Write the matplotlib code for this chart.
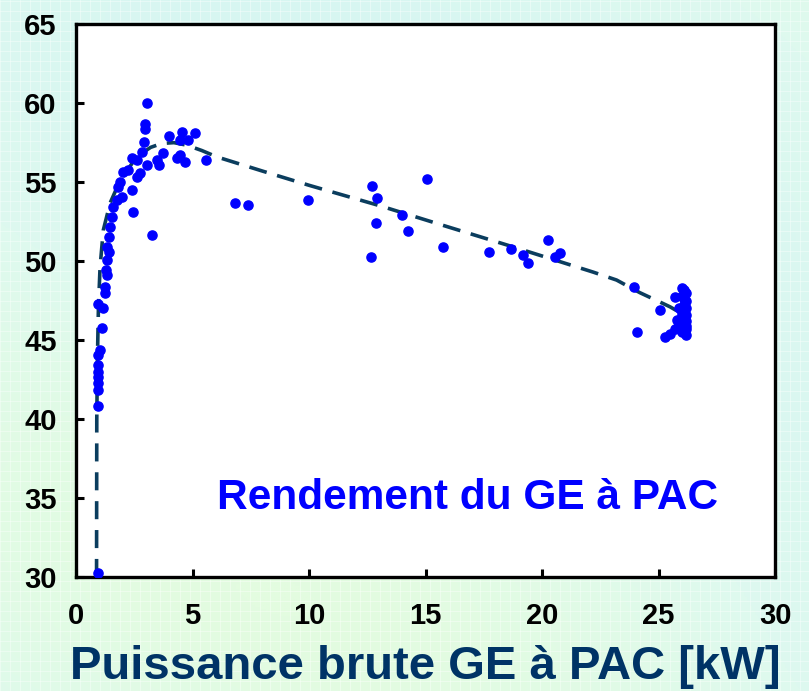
import numpy as np
import matplotlib
matplotlib.use('Agg')
import matplotlib.pyplot as plt
from matplotlib.colors import LinearSegmentedColormap

# Mesures : puissance brute (kW) et rendement (%)
puissance = [0.96, 0.96, 0.96, 0.96, 0.96, 0.96, 0.96, 0.96, 1.03, 1.1, 0.96, 1.15,
             1.24, 1.24, 1.32, 1.29, 1.32, 1.43, 1.34, 1.43, 1.46, 1.53, 1.6, 1.75,
             1.96, 1.82, 1.89, 2.39, 2.02, 2.23, 2.62, 2.75, 2.46, 3.25, 2.39, 2.6,
             2.82, 3.03, 2.92, 2.96, 2.96, 3.03, 3.49, 3.57, 3.72, 3.99, 4.55, 5.1,
             4.46, 4.8, 4.32, 4.68, 4.46, 5.59, 6.82, 7.4, 9.97, 12.72, 12.9, 12.88,
             12.66, 15.08, 13.98, 14.26, 15.77, 17.73, 18.67, 19.17, 19.38, 20.27,
             20.56, 20.77, 23.95, 24.09, 25.06, 25.28, 25.5, 25.7,
             26.0, 26.1, 26.2, 26.0, 26.2, 26.1, 26.2, 26.0, 26.2, 26.1, 26.2, 25.9,
             26.1, 26.2, 26.0, 26.2, 25.8, 25.7, 26.1, 26.0, 26.2, 25.9]
rendement = [30.25, 40.8, 41.84, 42.26, 42.68, 43.0, 43.4, 44.05, 44.37, 45.74, 47.3, 47.0,
             47.96, 48.37, 49.1, 49.43, 50.06, 50.6, 50.9, 51.54, 52.17, 52.8, 53.4, 53.86,
             54.07, 54.7, 55.0, 54.5, 55.65, 55.76, 55.3, 55.55, 53.1, 51.65, 56.5, 56.4,
             56.9, 56.1, 57.55, 58.35, 58.7, 60.0, 56.4, 56.1, 56.85, 57.9, 58.2, 58.1,
             57.66, 57.66, 56.5, 56.3, 56.7, 56.4, 53.65, 53.54, 53.86, 54.77, 53.97, 52.4,
             50.27, 55.17, 52.9, 51.92, 50.9, 50.59, 50.76, 50.38, 49.85, 51.33,
             50.27, 50.53, 48.33, 45.49, 46.9, 45.17, 45.38, 47.74,
             48.3, 48.2, 48.0, 47.8, 47.5, 47.2, 47.0, 46.8, 46.6, 46.4, 46.2, 46.0,
             45.9, 45.7, 45.5, 45.3, 46.3, 45.7, 47.6, 46.6, 45.9, 47.0]

# Courbe de tendance
tendance_x = [0.88, 0.885, 0.89, 0.92, 0.96, 1.03, 1.17, 1.46, 1.89, 2.6, 3.2, 3.68,
              4.2, 4.75, 5.4, 6.04, 8.0, 10.0, 13.05, 16.0, 18.76, 22.2, 23.2, 24.2,
              25.0, 25.5, 25.85]
tendance_y = [30.0, 35.0, 40.0, 44.0, 47.0, 49.6, 51.96, 53.67, 55.1, 56.6, 57.2, 57.45,
              57.5, 57.34, 57.0, 56.6, 55.7, 54.8, 53.5, 52.15, 50.9, 49.3, 48.8, 48.0,
              47.45, 47.1, 46.8]

x_ticks = [0, 5, 10, 15, 20, 25, 30]
y_ticks = [30, 35, 40, 45, 50, 55, 60, 65]

plt.rcParams['font.family'] = ['Liberation Sans', 'DejaVu Sans']

fig = plt.figure(figsize=(8.09, 6.91), dpi=100)

# fond degrade vert d'eau
bg = fig.add_axes([0, 0, 1, 1], zorder=-10)
yy, xx = np.mgrid[0:1:300j, 0:1:300j]
champ = 0.5 + 0.35 * np.sin(3.0 * xx + 4.0 * yy) + 0.15 * np.cos(5.0 * yy - 2.0 * xx)
cmap_bg = LinearSegmentedColormap.from_list('fond', ['#d6f6f2', '#def9ef', '#e3fce0'])
bg.imshow(champ, cmap=cmap_bg, aspect='auto', extent=[0, 1, 0, 1], origin='lower')
for v in np.arange(0, 1, 10 / 809):
    bg.axvline(v, color='white', lw=0.6, alpha=0.45)
for h in np.arange(0, 1, 10 / 691):
    bg.axhline(h, color='white', lw=0.6, alpha=0.45)
bg.set_xlim(0, 1)
bg.set_ylim(0, 1)
bg.axis('off')

ax = fig.add_axes([0.094, 0.165, 0.864, 0.800])
ax.set_facecolor('white')

ax.plot(tendance_x, tendance_y, color='#0b3d5e', lw=2.6, linestyle=(0, (5, 3)), zorder=2)
ax.plot(puissance, rendement, linestyle='none', marker='o', ms=6.6,
        color='#0000ff', mec='#0000ff', zorder=3)

ax.set_xlim(0, 30)
ax.set_ylim(30, 65)
ax.set_xticks(x_ticks)
ax.set_yticks(y_ticks)
ax.tick_params(direction='in', length=6, width=2.2, labelsize=21)
ax.tick_params(axis='x', pad=18)
ax.tick_params(axis='y', pad=14)
for lab in ax.get_xticklabels() + ax.get_yticklabels():
    lab.set_fontweight('bold')
for sp in ax.spines.values():
    sp.set_linewidth(2.4)

ax.set_xlabel('Puissance brute GE à PAC [kW]', fontsize=34, fontweight='bold',
              color='#003366', labelpad=11)
ax.text(16.8, 35.0, 'Rendement du GE à PAC', fontsize=30.5, fontweight='bold',
        color='#0000ff', ha='center', va='center')

fig.savefig('out.png', dpi=100)
